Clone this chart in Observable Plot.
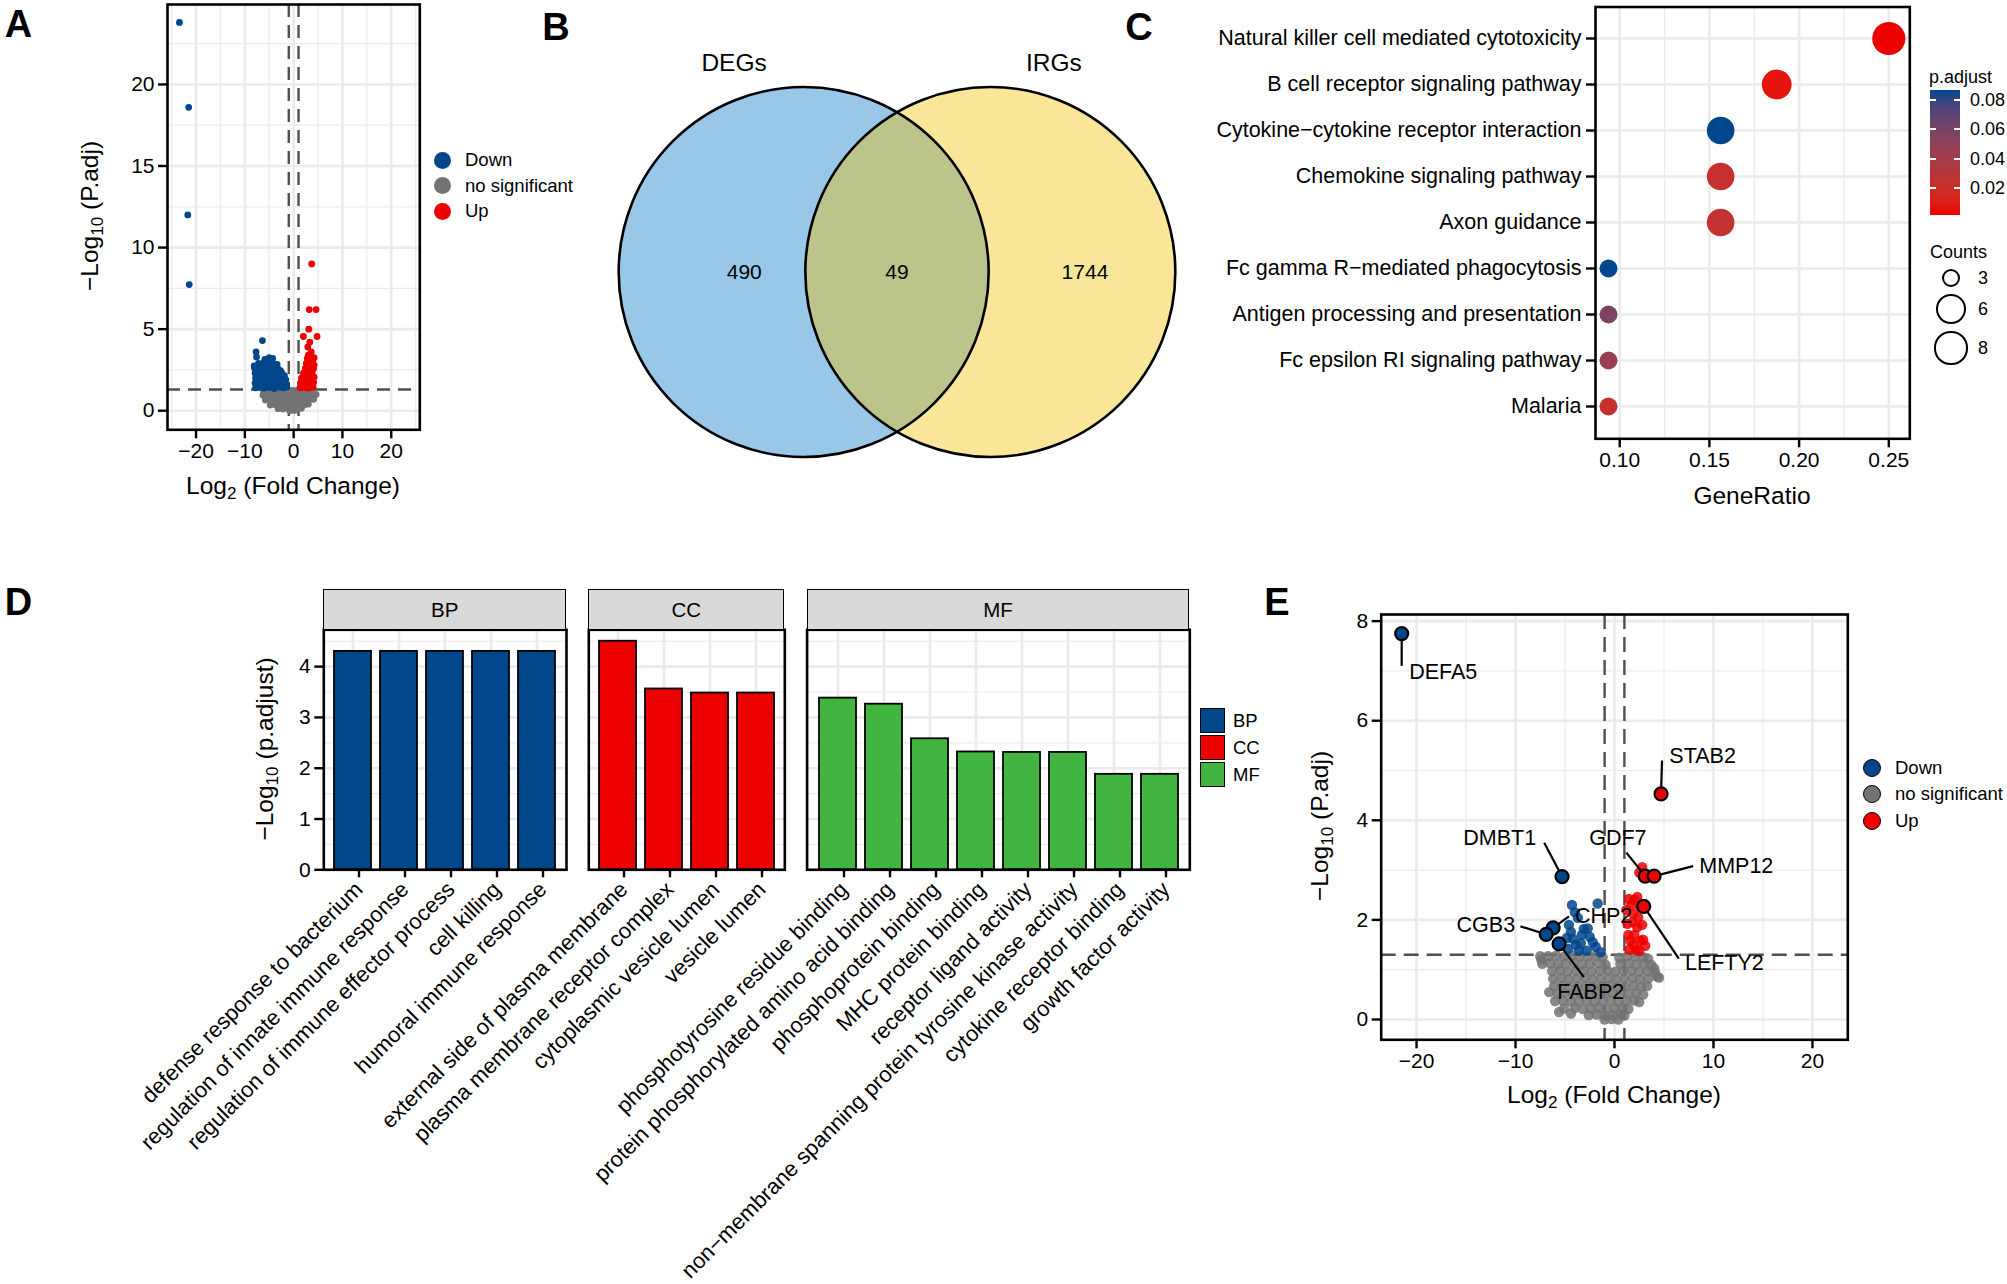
<!DOCTYPE html>
<html><head><meta charset="utf-8">
<script src="https://cdn.jsdelivr.net/npm/d3@7"></script>
<script src="https://cdn.jsdelivr.net/npm/@observablehq/plot@0.6"></script>
<style>
html,body{margin:0;padding:0;background:#fff;}
#fig{position:relative;width:2007px;height:1284px;overflow:hidden;background:#fff;font-family:'Liberation Sans',Arial,Helvetica,sans-serif;color:#000;}
.t{position:absolute;white-space:nowrap;line-height:1;}
.t sub{font-size:0.7em;vertical-align:-0.3em;line-height:0;}
.box{position:absolute;box-sizing:border-box;}
</style></head><body><div id="fig"></div>
<script>
// ---------------- DATA ----------------
// Panel A volcano (all DEGs)
const aDown = [
 [-23.4,23.8],[-21.5,18.6],[-21.7,12.0],[-21.4,7.73],[-6.4,4.3],[-7.7,3.6],[-7.6,3.3],
 [-7.8,1.4],[-7.0,1.45],[-6.1,1.38],[-5.0,1.42],[-4.0,1.36],[-3.0,1.44],[-2.1,1.4],[-1.4,1.45],
 [-7.9,1.7],[-7.1,1.75],[-6.0,1.68],[-5.1,1.72],[-4.1,1.7],[-3.1,1.66],[-2.0,1.74],[-1.5,1.62],
 [-7.8,2.0],[-6.9,2.05],[-6.0,1.98],[-5.0,2.02],[-3.9,2.0],[-3.0,1.96],[-2.2,2.02],
 [-7.9,2.3],[-7.0,2.34],[-6.1,2.28],[-5.0,2.32],[-4.0,2.3],[-3.0,2.26],[-2.4,2.3],
 [-8.0,2.6],[-7.1,2.64],[-6.0,2.58],[-5.1,2.62],[-4.1,2.6],[-3.2,2.56],[-2.7,2.45],
 [-7.2,2.9],[-6.2,2.92],[-5.2,2.96],[-4.2,2.9],[-3.4,2.84],
 [-5.9,3.15],[-5.0,3.25],[-4.3,3.2],[-4.7,3.05],[-8.1,2.75],[-1.9,2.15],[-1.6,1.9]
];
const aUp = [
 [3.7,9.0],[3.2,6.2],[4.6,6.2],[3.1,5.0],[2.0,4.55],[4.8,4.55],[3.3,4.2],[2.9,3.9],[3.6,3.6],[3.9,3.0],[4.2,2.8],
 [1.3,1.4],[2.2,1.42],[3.1,1.38],[4.0,1.44],
 [1.4,1.7],[2.3,1.72],[3.2,1.68],[4.1,1.74],
 [1.6,2.0],[2.5,2.02],[3.4,1.98],[4.2,2.05],
 [2.0,2.3],[2.9,2.32],[3.8,2.28],
 [2.4,2.6],[3.3,2.62],[4.1,2.58],
 [2.6,2.9],[3.5,2.92],
 [2.8,3.2],[3.6,3.22],[4.2,3.25],[3.0,3.4]
];
const aNs = [
 [-6.2,1.25],[-5.2,1.27],[-4.2,1.24],[-3.2,1.26],[-2.2,1.25],[-1.2,1.27],[-0.2,1.24],[0.8,1.26],[1.8,1.25],[2.8,1.27],[3.8,1.24],
 [-6.3,0.95],[-5.3,0.97],[-4.3,0.94],[-3.3,0.96],[-2.3,0.95],[-1.3,0.97],[-0.3,0.94],[0.7,0.96],[1.7,0.95],[2.7,0.97],[3.7,0.94],[4.6,1.0],
 [-5.8,0.65],[-4.8,0.67],[-3.8,0.64],[-2.8,0.66],[-1.8,0.65],[-0.8,0.67],[0.2,0.64],[1.2,0.66],[2.2,0.65],[3.2,0.67],[4.1,0.7],
 [-4.8,0.35],[-3.8,0.37],[-2.8,0.34],[-1.8,0.36],[-0.8,0.35],[0.2,0.37],[1.2,0.34],[2.2,0.36],[3.0,0.4],
 [-3.2,0.12],[-2.2,0.1],[-1.2,0.13],[-0.2,0.1],[0.8,0.12],[1.6,0.15],
 [-0.8,0.0],[0.2,0.02]
];
const volcanoGroups = ["Down","no significant","Up"];
const volcanoColors = ["#00468B","#737373","#ED0000"];
const logFcCut = [-1, 1];
const padjCut = [1.3];

// Panel B Venn
const vennSets = ["DEGs","IRGs"];
const vennColors = ["#0073C2","#EFC000"];
const vennCounts = [490, 49, 1744];      // DEGs only, both, IRGs only

// Panel C KEGG dot plot
const cPathways = ["Natural killer cell mediated cytotoxicity","B cell receptor signaling pathway","Cytokine\u2212cytokine receptor interaction","Chemokine signaling pathway","Axon guidance","Fc gamma R\u2212mediated phagocytosis","Antigen processing and presentation","Fc epsilon RI signaling pathway","Malaria"];
const cGeneRatio = [0.25, 0.1875, 0.15625, 0.15625, 0.15625, 0.09375, 0.09375, 0.09375, 0.09375];
const cCounts = [8, 6, 5, 5, 5, 3, 3, 3, 3];
const cPadj = [0.0017, 0.006, 0.087, 0.022, 0.024, 0.087, 0.058, 0.046, 0.022];
const cPadjTicks = [0.02, 0.04, 0.06, 0.08];
const cCountTicks = [3, 6, 8];

// Panel D GO bar chart
const goOntologies = ["BP","CC","MF"];
const goColors = ["#00468B","#ED0000","#42B540"];
const bpTerms = ["defense response to bacterium","regulation of innate immune response","regulation of immune effector process","cell killing","humoral immune response"];
const bpValues = [4.3, 4.3, 4.3, 4.3, 4.3];
const ccTerms = ["external side of plasma membrane","plasma membrane receptor complex","cytoplasmic vesicle lumen","vesicle lumen"];
const ccValues = [4.5, 3.56, 3.48, 3.48];
const mfTerms = ["phosphotyrosine residue binding","protein phosphorylated amino acid binding","phosphoprotein binding","MHC protein binding","receptor ligand activity","non\u2212membrane spanning protein tyrosine kinase activity","cytokine receptor binding","growth factor activity"];
const mfValues = [3.38, 3.26, 2.58, 2.32, 2.31, 2.31, 1.88, 1.88];

// Panel E volcano (intersection genes)
const eNs = [
 [-7.5,1.27],[-6.7,1.27],[-5.9,1.28],[-5.1,1.26],[-4.3,1.28],[-3.5,1.27],[-2.7,1.26],[-1.9,1.28],[-1.2,1.25],[0.5,1.24],[1.3,1.27],[2.1,1.26],[2.9,1.25],[3.4,1.22],
 [-7.3,1.12],[-6.5,1.13],[-5.7,1.11],[-4.9,1.12],[-4.1,1.13],[-3.3,1.11],[-2.5,1.12],[-1.7,1.13],[-0.9,1.1],[0.6,1.12],[1.4,1.13],[2.2,1.11],[3.0,1.12],[3.7,1.1],
 [-6.3,0.97],[-5.5,0.98],[-4.7,0.96],[-3.9,0.97],[-3.1,0.98],[-2.3,0.96],[-1.5,0.97],[-0.7,0.98],[0.1,0.96],[0.9,0.97],[1.7,0.98],[2.5,0.96],[3.3,0.97],[4.1,0.95],
 [-6.2,0.82],[-5.4,0.83],[-4.6,0.81],[-3.8,0.82],[-3.0,0.83],[-2.2,0.81],[-1.4,0.82],[-0.6,0.83],[0.2,0.81],[1.0,0.82],[1.8,0.83],[2.6,0.81],[3.4,0.82],[4.5,0.84],
 [-6.1,0.67],[-5.3,0.68],[-4.5,0.66],[-3.7,0.67],[-2.9,0.68],[-2.1,0.66],[-1.3,0.67],[-0.5,0.68],[0.3,0.66],[1.1,0.67],[1.9,0.68],[2.7,0.66],[3.3,0.67],
 [-5.8,0.52],[-5.0,0.53],[-4.2,0.51],[-3.4,0.52],[-2.6,0.53],[-1.8,0.51],[-1.0,0.52],[-0.2,0.53],[0.6,0.51],[1.4,0.52],[2.2,0.53],[2.9,0.5],
 [-6.0,0.37],[-5.2,0.38],[-4.4,0.36],[-3.6,0.37],[-2.8,0.38],[-2.0,0.36],[-1.2,0.37],[-0.4,0.38],[0.4,0.36],[1.2,0.37],[2.0,0.38],[2.5,0.35],
 [-5.1,0.22],[-4.0,0.23],[-3.2,0.21],[-2.4,0.22],[-1.6,0.23],[-0.8,0.21],[0.0,0.22],[0.8,0.23],[1.4,0.21],
 [-2.6,0.09],[-1.8,0.1],[-1.0,0.08],[-0.2,0.09],[0.6,0.1],[1.0,0.08],
 [-1.0,0.0],[-0.3,0.01],[0.4,0.0],
 [-7.4,1.2],[4.3,0.86],[4.0,1.03],[-6.6,0.55],[-5.6,0.15],[-4.4,0.12]
];
const eDown = [[-4.3,2.3],[-1.7,2.33],[-4.6,1.9],[-3.7,2.04],[-3.1,1.82],[-4.4,1.76],[-2.7,1.83],[-3.4,1.53],[-1.9,1.46],[-4.8,1.64],[-3.9,1.5],[-2.5,1.66],[-3.6,1.38],[-2.8,1.38],[-4.2,1.62],[-1.4,1.35],[-4.0,2.15],[-2.2,1.55],[-3.3,1.7],[-4.7,1.42]];
const eUp = [[1.45,2.42],[2.3,2.46],[1.9,2.12],[2.3,1.85],[2.6,1.58],[3.1,1.48],[1.6,1.58],[1.3,1.92],[2.8,3.06],[2.5,2.95],[1.7,2.3],[2.6,2.25],[2.0,1.7],[1.5,1.4],[2.8,1.9],[2.2,1.4],[1.8,1.95],[2.4,2.05],[2.0,2.4],[1.2,2.2],[2.9,1.6],[1.4,1.7],[2.5,1.38],[1.9,1.5]];
const eGenes = ["DEFA5","STAB2","DMBT1","GDF7","MMP12","LEFTY2","CHP2","CGB3","FABP2"];
const eGeneGroup = ["Down","Up","Down","Up","Up","Up","Down","Down","Down"];
const eGeneX = [-21.5, 4.7, -5.3, 3.1, 4.0, 2.95, -6.2, -6.9, -5.6];
const eGeneY = [7.75, 4.53, 2.87, 2.88, 2.88, 2.27, 1.84, 1.71, 1.52];
const eLabelX = [-17.3, 8.9, -11.6, 0.34, 12.3, 11.1, -1.1, -13.0, -2.4];
const eLabelY = [6.98, 5.29, 3.64, 3.64, 3.08, 1.14, 2.07, 1.89, 0.55];
const eSegX = [-21.5, 4.8, -7.1, 1.2, 7.95, 6.5, -4.6, -9.5, -3.1];
const eSegY = [7.1, 5.2, 3.55, 3.35, 3.08, 1.22, 2.07, 1.87, 0.85];

// ---------------- HELPERS ----------------
const FONT = "'Liberation Sans', Arial, Helvetica, sans-serif";
const W = 2007, H = 1284;
const GRID = "#EBEBEB";
const fig = document.getElementById("fig");
const colorOf = Object.fromEntries(volcanoGroups.map((g, i) => [g, volcanoColors[i]]));
const svgStyle = {position: "absolute", left: "0px", top: "0px", background: "transparent", overflow: "visible", fontFamily: FONT};
function box(L, T, R, B) { return {width: W, height: H, marginLeft: L, marginTop: T, marginRight: W - R, marginBottom: H - B, style: svgStyle}; }
function add(n) { fig.appendChild(n); return n; }
function txt(html, x, y, size, o = {}) {
  const d = document.createElement("div"); d.className = "t"; d.innerHTML = html;
  d.style.left = x + "px"; d.style.top = y + "px"; d.style.fontSize = size + "px";
  let tf = o.anchor === "start" ? "translate(0,-50%)" : "translate(-50%,-50%)";
  if (o.rotate) tf += ` rotate(${o.rotate}deg)`;
  d.style.transform = tf;
  if (o.bold) d.style.fontWeight = "bold";
  return add(d);
}
function rect(x, y, w, h, css) {
  const d = document.createElement("div"); d.className = "box";
  Object.assign(d.style, {left: x + "px", top: y + "px", width: w + "px", height: h + "px"}, css);
  return add(d);
}
const AX = {color: "black", fontSize: 21, tickSize: 9, tickPadding: 4, strokeWidth: 2.4, label: null};
const intFmt = d3.format("d");
const pts = (arr, g) => arr.map(([x, y]) => ({x, y, g}));

// ---------------- PANEL A ----------------
const aData = [...pts(aNs, "no significant"), ...pts(aDown, "Down"), ...pts(aUp, "Up")];
add(Plot.plot({
  ...box(167, 4, 419.3, 429.3),
  x: {domain: [-25.85, 25.85], axis: null},
  y: {domain: [-1.17, 24.9], axis: null},
  marks: [
    Plot.ruleX([-25, -15, -5, 5, 15, 25], {stroke: GRID, strokeWidth: 1.2}),
    Plot.ruleY([2.5, 7.5, 12.5, 17.5, 22.5], {stroke: GRID, strokeWidth: 1.2}),
    Plot.ruleX([-20, -10, 0, 10, 20], {stroke: GRID, strokeWidth: 2.6}),
    Plot.ruleY([0, 5, 10, 15, 20], {stroke: GRID, strokeWidth: 2.6}),
    Plot.ruleX(logFcCut, {stroke: "#505050", strokeWidth: 2.4, strokeDasharray: "13,8"}),
    Plot.ruleY(padjCut, {stroke: "#505050", strokeWidth: 2.4, strokeDasharray: "13,8"}),
    Plot.dot(aData, {x: "x", y: "y", r: 3.4, fill: d => colorOf[d.g], stroke: "none"}),
    Plot.axisX([-20, -10, 0, 10, 20], {...AX, anchor: "bottom"}),
    Plot.axisY([0, 5, 10, 15, 20], {...AX, anchor: "left", tickFormat: intFmt}),
    Plot.frame({stroke: "black", strokeWidth: 2.6})
  ]
}));
txt("Log<sub>2</sub> (Fold Change)", 293, 486, 24.5);
txt("\u2212Log<sub>10</sub> (P.adj)", 90, 216, 24.5, {rotate: -90});
volcanoGroups.forEach((g, i) => {
  const y = 160 + i * 25.5;
  rect(442 - 8.5, y - 8.5, 17, 17, {borderRadius: "50%", background: volcanoColors[i]});
  txt(g, 465, y, 18.5, {anchor: "start"});
});

// ---------------- PANEL B ----------------
const vennCircles = vennSets.map((s, i) => ({set: s, cx: i === 0 ? -0.504 : 0.504, color: vennColors[i]}));
const vennLabels = [
  {text: String(vennCounts[0]), x: -0.825, y: 0},
  {text: String(vennCounts[1]), x: 0, y: 0},
  {text: String(vennCounts[2]), x: 1.015, y: 0}
];
const vennNames = vennSets.map((s, i) => ({text: s, x: i === 0 ? -0.88 : 0.847, y: 1.125}));
add(Plot.plot({
  ...box(618, 86, 1175, 457),
  x: {domain: [-1.504, 1.504], axis: null},
  y: {domain: [-1, 1], axis: null},
  marks: [
    Plot.dot(vennCircles, {x: "cx", y: () => 0, r: 185, fill: "color", fillOpacity: 0.4, stroke: "none"}),
    Plot.dot(vennCircles, {x: "cx", y: () => 0, r: 185, fill: "none", stroke: "black", strokeWidth: 2.6}),
    Plot.text(vennLabels, {x: "x", y: "y", text: "text", fontSize: 21, fill: "black"}),
    Plot.text(vennNames, {x: "x", y: "y", text: "text", fontSize: 24.5, fill: "black"})
  ]
}));

// ---------------- PANEL C ----------------
const cData = cPathways.map((p, i) => ({pathway: p, ratio: cGeneRatio[i], count: cCounts[i], padj: cPadj[i]}));
const PADJ_DOMAIN = [0.0017, 0.087];
const PADJ_RANGE = ["#ED0000", "#00468B"];
const countSize = c => Math.sqrt((c - 3) / 5); // area-style size mapping
add(Plot.plot({
  ...box(1595, 6.5, 1909.3, 438.3),
  x: {domain: [0.0865, 0.2617], axis: null},
  y: {type: "point", domain: cPathways, padding: 0.6, axis: null},
  color: {type: "linear", domain: PADJ_DOMAIN, range: PADJ_RANGE, interpolate: d3.interpolateLab},
  r: {type: "linear", domain: [0, 1], range: [9, 16.6]},
  marks: [
    Plot.ruleX([0.125, 0.175, 0.225], {stroke: GRID, strokeWidth: 1.2}),
    Plot.ruleX([0.10, 0.15, 0.20, 0.25], {stroke: GRID, strokeWidth: 2.6}),
    Plot.ruleY(cPathways, {y: d => d, stroke: GRID, strokeWidth: 2.6}),
    Plot.dot(cData, {x: "ratio", y: "pathway", r: d => countSize(d.count), fill: "padj", stroke: "none"}),
    Plot.axisX([0.10, 0.15, 0.20, 0.25], {...AX, anchor: "bottom", tickFormat: d3.format(".2f")}),
    Plot.axisY({...AX, anchor: "left", fontSize: 21.5, tickPadding: 5}),
    Plot.frame({stroke: "black", strokeWidth: 2.6})
  ]
}));
txt("GeneRatio", 1752, 496, 24.5);
txt("p.adjust", 1929, 77, 18, {anchor: "start"});
const cbTop = 89.6, cbH = 125.4, cbL = 1930, cbW = 30;
const lab = d3.interpolateLab(PADJ_RANGE[0], PADJ_RANGE[1]);
const stops = d3.range(0, 11).map(i => `${lab(1 - i / 10)} ${i * 10}%`).join(",");
rect(cbL, cbTop, cbW, cbH, {background: `linear-gradient(to bottom, ${stops})`});
const cbY = d3.scaleLinear().domain(PADJ_DOMAIN).range([cbTop + cbH, cbTop]);
cPadjTicks.forEach(v => {
  const y = cbY(v);
  rect(cbL, y - 1, 6, 2, {background: "white"});
  rect(cbL + cbW - 6, y - 1, 6, 2, {background: "white"});
  txt(d3.format(".2f")(v), cbL + cbW + 10, y, 18, {anchor: "start"});
});
txt("Counts", 1930, 252, 18, {anchor: "start"});
const cntY = [278, 309, 348];
cCountTicks.forEach((c, i) => {
  const r = 9 + 7.6 * countSize(c);
  rect(1951 - r, cntY[i] - r, 2 * r, 2 * r, {borderRadius: "50%", border: "2px solid black"});
  txt(String(c), 1978, cntY[i], 18, {anchor: "start"});
});

// ---------------- PANEL D ----------------
const goPanels = [
  {ont: "BP", terms: bpTerms, values: bpValues, L: 323.3, R: 566},
  {ont: "CC", terms: ccTerms, values: ccValues, L: 588.3, R: 784.3},
  {ont: "MF", terms: mfTerms, values: mfValues, L: 806.6, R: 1189.3}
];
const D_TOP = 629.3, D_BOT = 869.3;
goPanels.forEach((p, k) => {
  const data = p.terms.map((t, i) => ({term: t, value: p.values[i], ont: p.ont}));
  add(Plot.plot({
    ...box(p.L, D_TOP, p.R, D_BOT),
    x: {type: "band", domain: p.terms, padding: 0.2, axis: null},
    y: {domain: [0, 4.725], axis: null},
    color: {domain: goOntologies, range: goColors},
    marks: [
      Plot.ruleY([0.5, 1.5, 2.5, 3.5, 4.5], {stroke: GRID, strokeWidth: 1.2}),
      Plot.ruleY([0, 1, 2, 3, 4], {stroke: GRID, strokeWidth: 2.6}),
      Plot.gridX({stroke: GRID, strokeOpacity: 1, strokeWidth: 2.6}),
      Plot.barY(data, {x: "term", y: "value", fill: "ont", stroke: "black", strokeWidth: 1.8}),
      Plot.axisX({...AX, anchor: "bottom", tickRotate: -45, fontSize: 22, tickSize: 8, tickPadding: 8, dx: 6}),
      k === 0 ? Plot.axisY([0, 1, 2, 3, 4], {...AX, anchor: "left", tickFormat: intFmt}) : null,
      Plot.frame({stroke: "black", strokeWidth: 2.6})
    ]
  }));
  rect(p.L, 589, p.R - p.L, 41, {background: "#D9D9D9", border: "1.8px solid black"});
  txt(p.ont, (p.L + p.R) / 2, 609.5, 20.5);
});
txt("\u2212Log<sub>10</sub> (p.adjust)", 265, 749, 24.5, {rotate: -90});
goOntologies.forEach((o, i) => {
  const y = 708 + i * 27;
  rect(1200, y, 25, 25, {background: goColors[i], border: "1.8px solid black"});
  txt(o, 1233, y + 12.5, 18.5, {anchor: "start"});
});

// ---------------- PANEL E ----------------
const eData = [...pts(eNs, "no significant"), ...pts(eDown, "Down"), ...pts(eUp, "Up")];
const eLab = eGenes.map((g, i) => ({gene: g, g: eGeneGroup[i], x: eGeneX[i], y: eGeneY[i], lx: eLabelX[i], ly: eLabelY[i], sx: eSegX[i], sy: eSegY[i]}));
add(Plot.plot({
  ...box(1380.7, 614, 1847.3, 1039.3),
  x: {domain: [-23.57, 23.57], axis: null},
  y: {domain: [-0.408, 8.133], axis: null},
  marks: [
    Plot.ruleX([-15, -5, 5, 15], {stroke: GRID, strokeWidth: 1.2}),
    Plot.ruleY([1, 3, 5, 7], {stroke: GRID, strokeWidth: 1.2}),
    Plot.ruleX([-20, -10, 0, 10, 20], {stroke: GRID, strokeWidth: 2.6}),
    Plot.ruleY([0, 2, 4, 6, 8], {stroke: GRID, strokeWidth: 2.6}),
    Plot.ruleX(logFcCut, {stroke: "#505050", strokeWidth: 2.4, strokeDasharray: "15,8"}),
    Plot.ruleY(padjCut, {stroke: "#505050", strokeWidth: 2.4, strokeDasharray: "15,8"}),
    Plot.dot(eData, {x: "x", y: "y", r: 5.2, fill: d => colorOf[d.g], fillOpacity: 0.85, stroke: "none"}),
    Plot.link(eLab, {x1: "x", y1: "y", x2: "sx", y2: "sy", stroke: "black", strokeWidth: 2.2}),
    Plot.dot(eLab, {x: "x", y: "y", r: 6.5, fill: d => colorOf[d.g], stroke: "black", strokeWidth: 2.2}),
    Plot.text(eLab, {x: "lx", y: "ly", text: "gene", fontSize: 21.5, fill: "black"}),
    Plot.axisX([-20, -10, 0, 10, 20], {...AX, anchor: "bottom"}),
    Plot.axisY([0, 2, 4, 6, 8], {...AX, anchor: "left", tickFormat: intFmt}),
    Plot.frame({stroke: "black", strokeWidth: 2.6})
  ]
}));
txt("Log<sub>2</sub> (Fold Change)", 1614, 1095, 24.5);
txt("\u2212Log<sub>10</sub> (P.adj)", 1320, 826, 24.5, {rotate: -90});
volcanoGroups.forEach((g, i) => {
  const y = 768 + i * 26.3;
  rect(1872 - 9, y - 9, 18, 18, {borderRadius: "50%", background: volcanoColors[i], border: "1.6px solid black"});
  txt(g, 1895, y, 18.5, {anchor: "start"});
});

// ---------------- PANEL LETTERS ----------------
[["A", 18.5, 24], ["B", 556, 27], ["C", 1139, 27], ["D", 18.5, 602], ["E", 1277, 602]]
  .forEach(([l, x, y]) => txt(l, x, y, 38, {bold: true}));
</script></body></html>
